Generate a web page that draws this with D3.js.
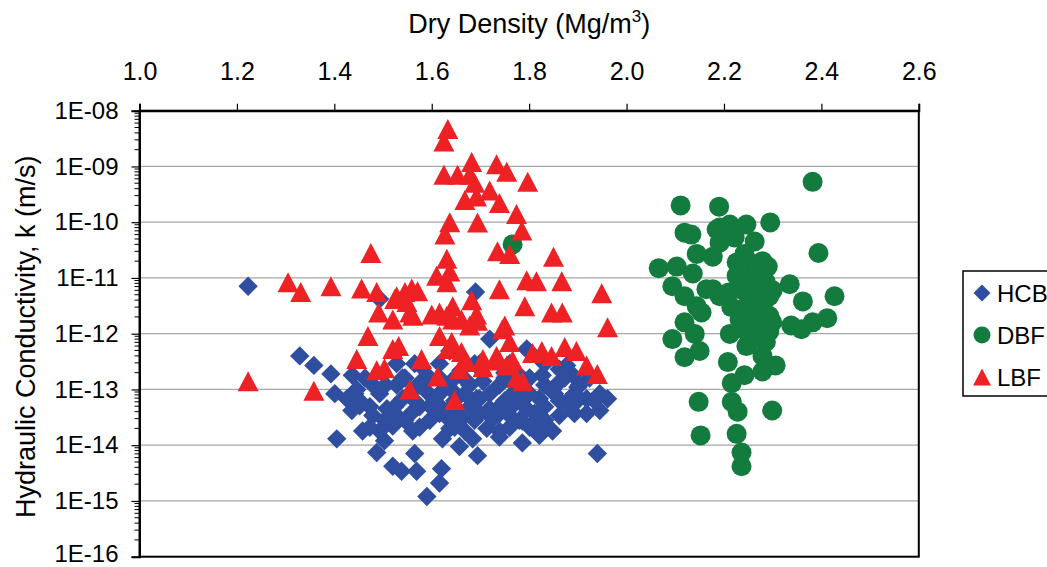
<!DOCTYPE html>
<html>
<head>
<meta charset="utf-8">
<script src="https://cdn.jsdelivr.net/npm/d3@7"></script>
<style>
  html, body { margin: 0; padding: 0; background: #fff; }
  svg { display: block; font-family: "Liberation Sans", Arial, sans-serif; }
</style>
</head>
<body>
<svg id="chart" width="1047" height="567"></svg>
<script>
// Dry density (Mg/m3) and hydraulic conductivity k (m/s) for each buffer material
const seriesNames = ["HCB", "DBF", "LBF"];

const hcbPoints = [
  [1.223,7.1e-12],[1.329,4.0e-13],[1.358,2.7e-13],[1.393,1.9e-13],[1.401,8.4e-14],[1.405,1.3e-14],
  [1.458,1.8e-14],[1.487,7.4e-15],[1.503,1.2e-14],[1.520,4.2e-15],[1.538,3.4e-15],[1.565,7.1e-15],
  [1.569,3.4e-15],[1.620,3.8e-15],[1.616,2.1e-15],[1.590,1.2e-15],[1.622,1.3e-14],[1.657,9.5e-15],
  [1.694,6.5e-15],[1.739,1.4e-14],[1.786,1.1e-14],[1.821,1.5e-14],[1.848,1.8e-14],[1.940,7.1e-15],
  [1.961,6.8e-14],[1.918,3.7e-14],[1.945,4.2e-14],[1.897,6.0e-14],[1.877,6.0e-14],[1.848,1.0e-13],
  [1.862,2.3e-13],[1.690,5.6e-12],[1.493,4.2e-12],[1.795,5.3e-13],[1.719,8.0e-13],
  [1.437,1.8e-13],[1.426,6.8e-14],[1.452,5.1e-14],[1.479,3.4e-14],[1.508,4.5e-14],[1.540,6.8e-14],
  [1.561,4.0e-14],[1.596,5.1e-14],[1.590,9.1e-14],[1.643,5.1e-14],[1.663,3.0e-14],[1.698,6.8e-14],
  [1.725,3.0e-14],[1.760,4.5e-14],[1.786,2.7e-14],[1.815,3.4e-14],[1.684,1.3e-14],[1.637,2.0e-14],
  [1.520,2.2e-14],[1.561,1.8e-14],[1.493,1.8e-14],[1.446,1.0e-13],[1.479,1.2e-13],[1.528,1.2e-13],
  [1.528,2.9e-13],[1.637,4.9e-13],[1.801,4.7e-13],[1.877,2.7e-13],[1.890,1.8e-13],[1.918,6.8e-14],
  [1.856,1.2e-13],[1.821,6.8e-14],[1.795,4.5e-14],[1.760,3.4e-14],[1.719,4.5e-14],[1.692,6.8e-14],
  [1.657,3.4e-14],[1.622,4.5e-14],[1.610,7.4e-14],[1.713,2.0e-14],[1.821,2.2e-14],[1.862,3.4e-14],
  [1.739,1.2e-13],[1.705,1.4e-13],[1.827,1.8e-13],[1.780,1.8e-13],[1.672,1.4e-13],[1.766,8.4e-14],
  [1.575,1.3e-13],[1.616,1.6e-13],[1.555,8.4e-14],[1.436,4.2e-14],[1.580,2.5e-13],[1.660,2.2e-13],
  [1.700,3.0e-13],[1.750,2.0e-13],[1.830,3.0e-13],[1.640,1.0e-13],[1.540,1.6e-13],[1.900,1.1e-13],
  [1.463,1.6e-13],[1.545,1.6e-13],[1.596,1.6e-13],[1.647,1.6e-13],[1.750,1.6e-13],[1.801,1.6e-13],
  [1.873,1.6e-13],[1.924,1.6e-13],[1.442,8.4e-14],[1.493,8.4e-14],[1.616,8.4e-14],[1.668,8.4e-14],
  [1.719,8.4e-14],[1.801,8.4e-14],[1.852,8.4e-14],[1.893,8.4e-14],[1.945,8.4e-14],[1.473,4.9e-14],
  [1.524,4.9e-14],[1.575,4.9e-14],[1.678,4.9e-14],[1.739,4.9e-14],[1.832,4.9e-14],[1.883,4.9e-14],
  [1.503,2.8e-14],[1.545,2.8e-14],[1.596,2.8e-14],[1.637,2.8e-14],[1.688,2.8e-14],[1.780,2.8e-14],
  [1.832,2.8e-14],[1.668,1.8e-14],[1.739,1.8e-14],[1.565,2.9e-13],[1.616,2.9e-13],[1.688,2.9e-13],
  [1.760,2.9e-13],[1.832,2.9e-13],
  [1.505,1.2e-13],[1.575,1.2e-13],[1.627,1.2e-13],[1.678,1.2e-13],[1.780,1.2e-13],[1.832,1.2e-13],
  [1.903,1.2e-13],[1.452,6.3e-14],[1.565,6.3e-14],[1.647,6.3e-14],[1.750,6.3e-14],[1.780,6.3e-14],
  [1.862,6.3e-14],[1.934,6.3e-14],[1.524,3.7e-14],[1.616,3.7e-14],[1.698,3.7e-14],[1.739,3.7e-14],
  [1.811,3.7e-14],[1.893,3.7e-14],[1.473,2.1e-14],[1.575,2.1e-14],[1.647,2.1e-14],[1.760,2.1e-14],
  [1.801,2.1e-14]
];

const dbfPoints = [
  [2.382,5.3e-10],[2.111,2.0e-10],[2.190,1.9e-10],[2.119,6.5e-11],[2.133,6.0e-11],[2.191,8.0e-11],
  [2.212,9.1e-11],[2.246,9.1e-11],[2.295,9.9e-11],[2.263,4.5e-11],[2.222,5.3e-11],[2.394,2.8e-11],
  [2.144,2.7e-11],[2.177,2.4e-11],[2.066,1.5e-11],[2.103,1.6e-11],[2.136,1.2e-11],[2.226,1.9e-11],
  [2.279,2.0e-11],[2.290,1.6e-11],[2.259,1.8e-11],[2.094,7.1e-12],[2.119,4.7e-12],[2.144,3.1e-12],
  [2.154,2.4e-12],[2.177,6.3e-12],[2.191,4.7e-12],[2.335,7.7e-12],[2.362,3.8e-12],[2.427,4.7e-12],
  [2.338,1.4e-12],[2.359,1.2e-12],[2.382,1.6e-12],[2.412,1.9e-12],[2.119,1.6e-12],[2.140,9.9e-13],
  [2.094,8.0e-13],[2.119,3.8e-13],[2.150,4.9e-13],[2.212,9.9e-13],[2.246,6.0e-13],[2.279,4.0e-13],
  [2.306,2.7e-13],[2.279,2.1e-13],[2.242,1.8e-13],[2.208,3.1e-13],[2.216,1.3e-13],[2.216,6.0e-14],
  [2.228,4.0e-14],[2.148,6.0e-14],[2.299,4.2e-14],[2.152,1.5e-14],[2.226,1.6e-14],[2.236,7.4e-15],
  [2.236,4.2e-15],[2.232,6.3e-12],[2.266,5.6e-12],[2.293,4.7e-12],[2.246,3.1e-12],[2.279,2.8e-12],
  [2.299,1.6e-12],[2.258,1.6e-12],[2.232,1.8e-12],[2.272,9.1e-13],[2.286,7.1e-13],[2.252,7.1e-13],
  [2.226,1.1e-11],[2.272,9.5e-12],[2.286,8.4e-12],[2.164,6.3e-12],[2.185,7.4e-11],[2.191,4.3e-11],
  [2.293,1.1e-12],[2.246,2.1e-12],[2.293,2.1e-12],[2.258,4.2e-12],[2.286,4.2e-12],[1.766,4.0e-11],
  [2.242,2.7e-11],[2.240,8.0e-12],[2.270,3.5e-12],[2.250,2.5e-12],[2.280,1.3e-12],[2.210,5.5e-12],
  [2.300,6.0e-12],[2.260,1.2e-11],[2.215,3.0e-12],[2.240,1.2e-12]
];

const lbfPoints = [
  [1.633,4.7e-9],[1.625,2.8e-9],[1.625,7.1e-10],[1.653,7.1e-10],[1.682,1.2e-9],[1.678,7.1e-10],
  [1.688,5.1e-10],[1.733,1.1e-9],[1.754,8.0e-10],[1.797,5.3e-10],[1.668,2.5e-10],[1.692,2.9e-10],
  [1.719,3.7e-10],[1.739,2.2e-10],[1.637,1.0e-10],[1.627,6.0e-11],[1.694,9.9e-11],[1.774,1.4e-10],
  [1.785,7.1e-11],[1.735,3.0e-11],[1.760,2.7e-11],[1.850,2.4e-11],[1.475,2.8e-11],[1.631,2.2e-11],
  [1.610,1.1e-11],[1.637,1.3e-11],[1.631,8.4e-12],[1.305,8.4e-12],[1.331,5.6e-12],[1.393,7.1e-12],
  [1.456,6.5e-12],[1.487,5.6e-12],[1.528,4.7e-12],[1.545,5.6e-12],[1.559,6.5e-12],[1.571,5.8e-12],
  [1.739,6.3e-12],[1.795,9.1e-12],[1.815,8.7e-12],[1.867,8.7e-12],[1.949,5.3e-12],[1.791,3.1e-12],
  [1.846,2.4e-12],[1.868,2.4e-12],[1.682,4.0e-12],[1.643,3.1e-12],[1.616,2.4e-12],[1.555,2.4e-12],
  [1.491,2.4e-12],[1.520,1.8e-12],[1.561,2.1e-12],[1.692,2.2e-12],[1.750,1.4e-12],[1.631,2.1e-12],
  [1.661,1.8e-12],[1.223,1.4e-13],[1.358,9.5e-14],[1.446,3.5e-13],[1.469,9.1e-13],[1.487,2.2e-13],
  [1.503,2.4e-13],[1.520,5.3e-13],[1.532,6.0e-13],[1.555,1.0e-13],[1.579,3.5e-13],[1.616,9.1e-13],
  [1.612,1.7e-13],[1.647,6.5e-14],[1.643,1.8e-12],[1.678,1.4e-12],[1.694,1.7e-12],[1.745,1.2e-12],
  [1.760,7.1e-13],[1.705,3.5e-13],[1.733,4.0e-13],[1.705,2.5e-13],[1.754,2.7e-13],[1.787,1.4e-13],
  [1.807,4.5e-13],[1.826,4.9e-13],[1.846,4.0e-13],[1.873,5.8e-13],[1.897,4.9e-13],[1.918,2.7e-13],
  [1.940,1.9e-13],[1.961,1.3e-12],[1.657,2.3e-13],[1.672,3.1e-13],[1.661,4.7e-13],[1.641,7.1e-13],
  [1.600,2.2e-12],[1.633,5.3e-13],[1.774,1.6e-13],[1.766,3.3e-13],[1.739,3.3e-13],[1.524,4.2e-12],
  [1.549,3.7e-12]
];

const xTicks = [1.0, 1.2, 1.4, 1.6, 1.8, 2.0, 2.2, 2.4, 2.6];
const yTicks = [1e-8, 1e-9, 1e-10, 1e-11, 1e-12, 1e-13, 1e-14, 1e-15, 1e-16];
const yTickLabels = ["1E-08","1E-09","1E-10","1E-11","1E-12","1E-13","1E-14","1E-15","1E-16"];

const colors = { HCB: "#2f4ea0", DBF: "#137b3d", LBF: "#ee2125" };

const plot = { left: 139.5, right: 918.8, top: 110.7, bottom: 556.7 };

const svg = d3.select("#chart");

const x = d3.scaleLinear().domain([1.0, 2.6]).range([plot.left, plot.right]);
const y = d3.scaleLog().domain([1e-16, 1e-8]).range([plot.bottom, plot.top]);

// horizontal gridlines at each decade
svg.append("g")
  .selectAll("line")
  .data(yTicks.slice(1, -1))
  .join("line")
  .attr("x1", plot.left).attr("x2", plot.right)
  .attr("y1", d => y(d)).attr("y2", d => y(d))
  .attr("stroke", "#a6a6a6").attr("stroke-width", 1.3);

// plot frame
svg.append("rect")
  .attr("x", plot.left).attr("y", plot.top)
  .attr("width", plot.right - plot.left).attr("height", plot.bottom - plot.top)
  .attr("fill", "none").attr("stroke", "#000").attr("stroke-width", 2);

// top x axis
const xAxis = d3.axisTop(x).tickValues(xTicks).tickFormat(d3.format(".1f"))
  .tickSize(7).tickPadding(24);
const gx = svg.append("g").attr("transform", `translate(0,${plot.top})`).call(xAxis);
gx.select(".domain").attr("stroke-width", 2);
gx.selectAll(".tick line").attr("stroke-width", 1.2);
gx.selectAll("text").attr("font-size", 25).attr("fill", "#000")
  .attr("font-family", "'Liberation Sans', Arial, sans-serif");

// left y axis: decade ticks with labels
const yAxis = d3.axisLeft(y).tickValues(yTicks)
  .tickFormat((d, i) => yTickLabels[i]).tickSize(8).tickPadding(13);
const gy = svg.append("g").attr("transform", `translate(${plot.left},0)`).call(yAxis);
gy.select(".domain").attr("stroke-width", 2);
gy.selectAll(".tick line").attr("stroke-width", 1.2);
gy.selectAll("text").attr("font-size", 24).attr("fill", "#000")
  .attr("dy", (d, i) => (i === yTicks.length - 1 ? "0.2em" : "0.32em"))
  .attr("font-family", "'Liberation Sans', Arial, sans-serif");

// minor log ticks (2..9 within each decade)
const minorTicks = [];
for (let e = -16; e < -8; e++) {
  for (let m = 2; m <= 9; m++) minorTicks.push(m * Math.pow(10, e));
}
svg.append("g")
  .selectAll("line")
  .data(minorTicks)
  .join("line")
  .attr("x1", plot.left - 5).attr("x2", plot.left)
  .attr("y1", d => y(d)).attr("y2", d => y(d))
  .attr("stroke", "#000").attr("stroke-width", 1);

// axis titles
const xTitle = svg.append("text")
  .attr("x", (plot.left + plot.right) / 2).attr("y", 33)
  .attr("text-anchor", "middle").attr("font-size", 27).attr("fill", "#000");
xTitle.append("tspan").text("Dry Density (Mg/m");
xTitle.append("tspan").attr("font-size", 17).attr("dy", -11).text("3");
xTitle.append("tspan").attr("dy", 11).text(")");

svg.append("text")
  .attr("transform", `translate(35,${(plot.top + plot.bottom) / 2 + 3}) rotate(-90)`)
  .attr("text-anchor", "middle").attr("font-size", 27).attr("fill", "#000")
  .text("Hydraulic Conductivity, k (m/s)");

// marker shapes
const markerPath = {
  HCB: s => `M0,${-s}L${s},0L0,${s}L${-s},0Z`,
  DBF: s => `M${s},0A${s},${s} 0 1,1 ${-s},0A${s},${s} 0 1,1 ${s},0Z`,
  LBF: s => `M0,${-s}L${s * 1.05},${s}L${-s * 1.05},${s}Z`
};
const markerSize = { HCB: 9.7, DBF: 10, LBF: 10 };

const seriesData = { HCB: hcbPoints, DBF: dbfPoints, LBF: lbfPoints };

seriesNames.forEach(name => {
  svg.append("g")
    .selectAll("path")
    .data(seriesData[name])
    .join("path")
    .attr("transform", d => `translate(${x(d[0])},${y(d[1])})`)
    .attr("d", markerPath[name](markerSize[name]))
    .attr("fill", colors[name]);
});

// legend
const legend = svg.append("g");
legend.append("rect")
  .attr("x", 963).attr("y", 271).attr("width", 110).attr("height", 125)
  .attr("fill", "#fff").attr("stroke", "#000").attr("stroke-width", 1.5);
seriesNames.forEach((name, i) => {
  const cy = 293 + i * 42;
  legend.append("path")
    .attr("transform", `translate(982,${cy})`)
    .attr("d", markerPath[name](8.5))
    .attr("fill", colors[name]);
  legend.append("text")
    .attr("x", 997).attr("y", cy + 9)
    .attr("font-size", 24).attr("fill", "#000")
    .text(name);
});
</script>
</body>
</html>
